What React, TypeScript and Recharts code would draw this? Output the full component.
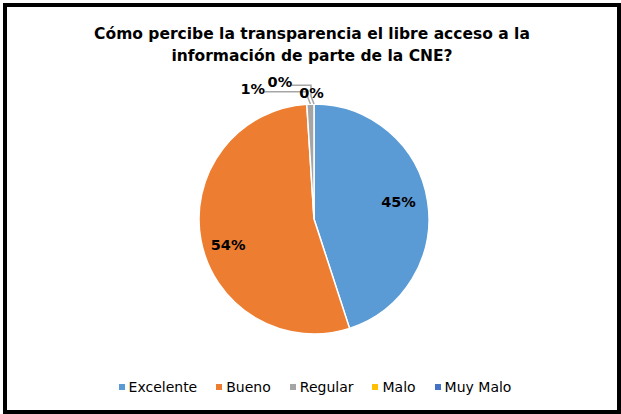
import React from "react";
import { PieChart, Pie, Cell } from "recharts";

const categories = ["Excelente", "Bueno", "Regular", "Malo", "Muy Malo"];
const values = [45, 54, 1, 0, 0];
const colors = ["#5B9BD5", "#ED7D31", "#A5A5A5", "#FFC000", "#4472C4"];
// label placement: extra angle (deg) from the slice middle, and radius factor / extra
const labelAngleShift = [2.4, 6, 23.4, 14, 1.1];
const labelRadiusFactor = [0.75, 0.78];
const labelRadiusExtra = [0, 0, 29, 26, 11.5];

const data = categories.map((name, i) => ({ name, value: values[i] }));
const total = values.reduce((a, b) => a + b, 0);
const RAD = Math.PI / 180;

const font = "'DejaVu Sans', sans-serif";

const renderLabel = (props: any) => {
  const { cx, cy, midAngle, outerRadius, index, value } = props;
  const pct = `${Math.round((value / total) * 100)}%`;
  const a = (midAngle + labelAngleShift[index]) * RAD;
  if (index < 2) {
    const r = outerRadius * labelRadiusFactor[index];
    const x = cx + r * Math.cos(-a);
    const y = cy + r * Math.sin(-a);
    return (
      <text x={x} y={y} textAnchor="middle" dominantBaseline="central" fontSize={14.5} fontWeight="bold" fill="#000" fontFamily={font}>
        {pct}
      </text>
    );
  }
  const r = outerRadius + labelRadiusExtra[index];
  const x = cx + r * Math.cos(-a);
  const y = cy + r * Math.sin(-a);
  const sx = cx + outerRadius * Math.cos(-midAngle * RAD);
  const sy = cy + outerRadius * Math.sin(-midAngle * RAD);
  const hasLine = index < 4;
  return (
    <g>
      {hasLine && (
        <polyline
          points={`${x + 12},${y + 3} ${sx - 3},${y + 3} ${sx - 3},${sy - 8} ${sx},${sy}`}
          fill="none"
          stroke="#A6A6A6"
          strokeWidth={1.5}
        />
      )}
      <text x={x} y={y} textAnchor="middle" dominantBaseline="central" fontSize={14.5} fontWeight="bold" fill="#000" fontFamily={font}>
        {pct}
      </text>
    </g>
  );
};

export default function App() {
  return (
    <div
      style={{
        position: "absolute",
        left: 3,
        top: 3,
        width: 618,
        height: 411,
        boxSizing: "border-box",
        border: "4px solid #000",
        background: "#fff",
        fontFamily: font,
      }}
    >
      <div
        style={{
          position: "absolute",
          top: 16,
          left: 0,
          width: 610,
          textAlign: "center",
          fontSize: 15.5,
          fontWeight: "bold",
          lineHeight: "22px",
          color: "#000",
        }}
      >
        Cómo percibe la transparencia el libre acceso a la
        <br />
        información de parte de la CNE?
      </div>
      <div style={{ position: "absolute", left: 0, top: 0 }}>
        <PieChart width={610} height={403} margin={{ top: 0, right: 0, bottom: 0, left: 0 }}>
          <Pie
            data={data}
            dataKey="value"
            nameKey="name"
            cx={307}
            cy={212}
            outerRadius={115}
            startAngle={90}
            endAngle={-270}
            stroke="#fff"
            strokeWidth={1.5}
            label={renderLabel}
            labelLine={false}
            isAnimationActive={false}
          >
            {data.map((d, i) => (
              <Cell key={d.name} fill={colors[i]} />
            ))}
          </Pie>
        </PieChart>
      </div>
      <div
        style={{
          position: "absolute",
          top: 372,
          left: 3,
          width: 610,
          display: "flex",
          justifyContent: "center",
          fontSize: 14,
          color: "#000",
        }}
      >
        {categories.map((c, i) => (
          <span key={c} style={{ display: "flex", alignItems: "center", marginRight: i < categories.length - 1 ? 19 : 0 }}>
            <span style={{ width: 6, height: 6, background: colors[i], display: "inline-block", marginRight: 4 }} />
            {c}
          </span>
        ))}
      </div>
    </div>
  );
}
